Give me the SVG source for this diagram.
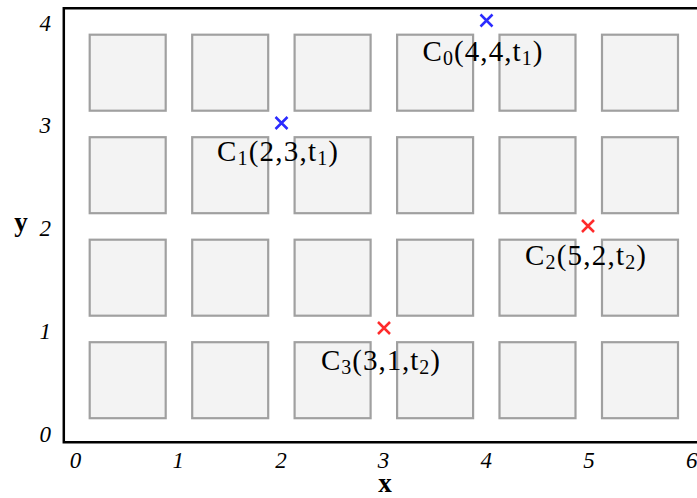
<svg xmlns="http://www.w3.org/2000/svg" width="697" height="498" viewBox="0 0 697 498">
<defs>
<style>
.cell{fill:#f3f3f3;stroke:#a0a0a0;stroke-width:2.2}
.axis{fill:none;stroke:#000;stroke-width:2.5}
.tick{font-family:"Liberation Serif",serif;font-style:italic;font-size:23px;fill:#000}
.axlab{font-family:"Liberation Serif",serif;font-weight:bold;font-size:27px;fill:#000}
.lab{font-family:"Liberation Serif",serif;font-size:29px;fill:#000}
.sub{font-size:20px}
.blue{stroke:#2b2bff;stroke-width:2.5}
.red{stroke:#ff2b2b;stroke-width:2.5}
</style>
</defs>
<rect width="697" height="498" fill="#fff"/>
<g id="grid">
<rect class="cell" x="89.7" y="34.7" width="76" height="76"/>
<rect class="cell" x="192.2" y="34.7" width="76" height="76"/>
<rect class="cell" x="294.6" y="34.7" width="76" height="76"/>
<rect class="cell" x="397.1" y="34.7" width="76" height="76"/>
<rect class="cell" x="499.5" y="34.7" width="76" height="76"/>
<rect class="cell" x="602.0" y="34.7" width="76" height="76"/>
<rect class="cell" x="89.7" y="137.2" width="76" height="76"/>
<rect class="cell" x="192.2" y="137.2" width="76" height="76"/>
<rect class="cell" x="294.6" y="137.2" width="76" height="76"/>
<rect class="cell" x="397.1" y="137.2" width="76" height="76"/>
<rect class="cell" x="499.5" y="137.2" width="76" height="76"/>
<rect class="cell" x="602.0" y="137.2" width="76" height="76"/>
<rect class="cell" x="89.7" y="239.7" width="76" height="76"/>
<rect class="cell" x="192.2" y="239.7" width="76" height="76"/>
<rect class="cell" x="294.6" y="239.7" width="76" height="76"/>
<rect class="cell" x="397.1" y="239.7" width="76" height="76"/>
<rect class="cell" x="499.5" y="239.7" width="76" height="76"/>
<rect class="cell" x="602.0" y="239.7" width="76" height="76"/>
<rect class="cell" x="89.7" y="342.2" width="76" height="76"/>
<rect class="cell" x="192.2" y="342.2" width="76" height="76"/>
<rect class="cell" x="294.6" y="342.2" width="76" height="76"/>
<rect class="cell" x="397.1" y="342.2" width="76" height="76"/>
<rect class="cell" x="499.5" y="342.2" width="76" height="76"/>
<rect class="cell" x="602.0" y="342.2" width="76" height="76"/>
</g>
<g id="axes">
<path class="axis" d="M705,8.3 H63.8 V442.3 H705"/>
<text class="tick" text-anchor="middle" x="75.5" y="468">0</text>
<text class="tick" text-anchor="middle" x="178.2" y="468">1</text>
<text class="tick" text-anchor="middle" x="280.9" y="468">2</text>
<text class="tick" text-anchor="middle" x="383.6" y="468">3</text>
<text class="tick" text-anchor="middle" x="486.3" y="468">4</text>
<text class="tick" text-anchor="middle" x="589" y="468">5</text>
<text class="tick" text-anchor="middle" x="691.7" y="468">6</text>
<text class="tick" text-anchor="end" x="51" y="441.5">0</text>
<text class="tick" text-anchor="end" x="51" y="338.5">1</text>
<text class="tick" text-anchor="end" x="51" y="235.5">2</text>
<text class="tick" text-anchor="end" x="51" y="133">3</text>
<text class="tick" text-anchor="end" x="51" y="31">4</text>
<text class="axlab" text-anchor="middle" x="385" y="492">x</text>
<text class="axlab" text-anchor="middle" x="21" y="231">y</text>
</g>
<g id="C0">
<path class="blue" d="M480.5,14.5 L492.5,26.5 M480.5,26.5 L492.5,14.5"/>
<text class="lab" x="422.5" y="61" textLength="120" lengthAdjust="spacing">C<tspan class="sub" dy="4">0</tspan><tspan dy="-4">(4,4,t</tspan><tspan class="sub" dy="4">1</tspan><tspan dy="-4">)</tspan></text>
</g>
<g id="C1">
<path class="blue" d="M275.5,117 L287.5,129 M275.5,129 L287.5,117"/>
<text class="lab" x="217" y="161" textLength="121" lengthAdjust="spacing">C<tspan class="sub" dy="4">1</tspan><tspan dy="-4">(2,3,t</tspan><tspan class="sub" dy="4">1</tspan><tspan dy="-4">)</tspan></text>
</g>
<g id="C2">
<path class="red" d="M582,220 L594,232 M582,232 L594,220"/>
<text class="lab" x="525" y="265" textLength="121" lengthAdjust="spacing">C<tspan class="sub" dy="4">2</tspan><tspan dy="-4">(5,2,t</tspan><tspan class="sub" dy="4">2</tspan><tspan dy="-4">)</tspan></text>
</g>
<g id="C3">
<path class="red" d="M378,322 L390,334 M378,334 L390,322"/>
<text class="lab" x="321" y="370" textLength="119" lengthAdjust="spacing">C<tspan class="sub" dy="4">3</tspan><tspan dy="-4">(3,1,t</tspan><tspan class="sub" dy="4">2</tspan><tspan dy="-4">)</tspan></text>
</g>
</svg>
